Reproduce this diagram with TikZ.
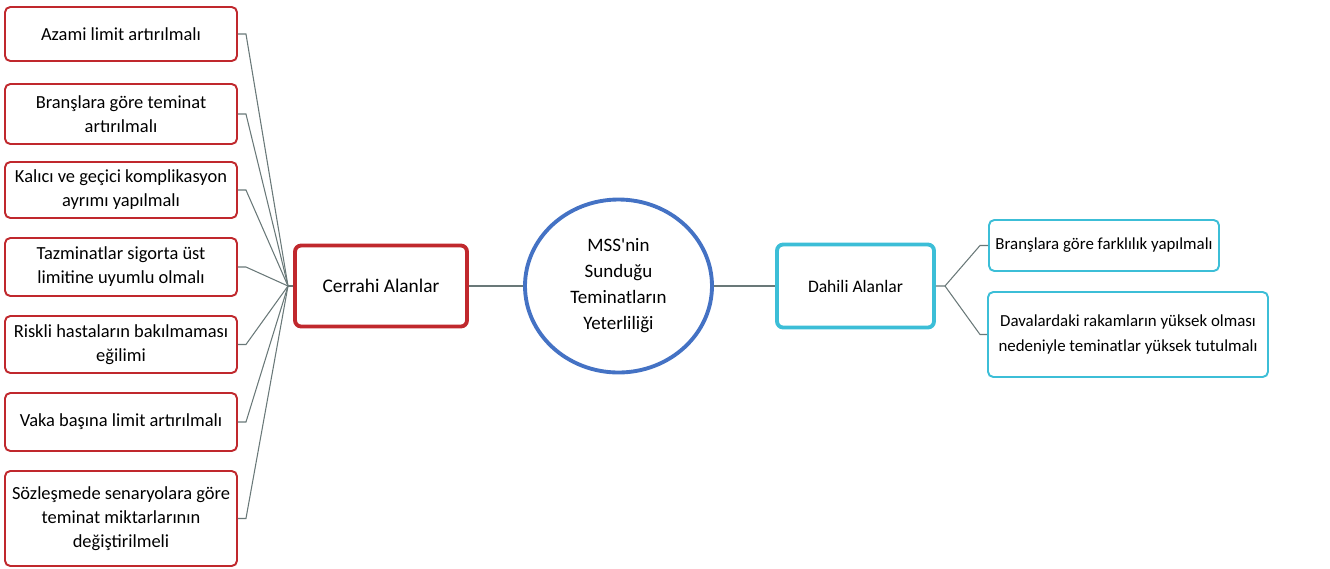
\documentclass[tikz,border=0pt]{standalone}
\usepackage{fontspec}
\setmainfont{Carlito}[Ligatures=TeXOff]
\usetikzlibrary{shapes.geometric}

\definecolor{boxred}{RGB}{192,40,45}
\definecolor{circblue}{RGB}{68,114,196}
\definecolor{boxcyan}{RGB}{60,190,215}
\definecolor{linkgray}{RGB}{105,120,120}

\tikzset{
  leafred/.style={draw=boxred, line width=1.1pt, rounded corners=3pt, fill=white,
    minimum width=4.64cm, align=center, font=\fontsize{10.5}{13.6}\selectfont, inner sep=2pt},
  leafcyan/.style={draw=boxcyan, line width=1.1pt, rounded corners=3pt, fill=white,
    align=center, font=\fontsize{9.6}{14.4}\selectfont, inner sep=2pt},
  branch/.style={line width=2.2pt, rounded corners=3.5pt, fill=white,
    align=center},
  link/.style={draw=linkgray, line width=0.6pt}
}

\begin{document}
\begin{tikzpicture}
    \useasboundingbox (0,0) rectangle (26.6,-11.36);

    % Center
    \node[draw=circblue, line width=2.2pt, ellipse, minimum width=3.74cm, minimum height=3.46cm,
      align=center, font=\fontsize{10.8}{14.8}\selectfont, inner sep=0pt] (root) at (12.37,-5.72)
      {MSS'nin\\Sunduğu\\Teminatların\\Yeterliliği};

    % Branches
    \node[branch, draw=boxred, font=\fontsize{11}{13}\selectfont, minimum width=3.44cm, minimum height=1.62cm] (cerrahi) at (7.62,-5.72) {Cerrahi Alanlar};
    \node[branch, draw=boxcyan, font=\fontsize{10}{12}\selectfont, minimum width=3.14cm, minimum height=1.66cm] (dahili) at (17.11,-5.72) {Dahili Alanlar};
    \draw[link] (cerrahi.east) -- (root.west);
    \draw[link] (root.east) -- (dahili.west);

    % Left leaves
    \node[leafred, minimum height=1.08cm] (l1) at (2.42,-0.68) {Azami limit artırılmalı};
    \node[leafred, minimum height=1.2cm] (l2) at (2.42,-2.28) {Branşlara göre teminat\\artırılmalı};
    \node[leafred, minimum height=1.12cm] (l3) at (2.42,-3.8) {Kalıcı ve geçici komplikasyon\\ayrımı yapılmalı};
    \node[leafred, minimum height=1.16cm] (l4) at (2.42,-5.34) {Tazminatlar sigorta üst\\limitine uyumlu olmalı};
    \node[leafred, minimum height=1.14cm] (l5) at (2.42,-6.89) {Riskli hastaların bakılmaması\\eğilimi};
    \node[leafred, minimum height=1.16cm] (l6) at (2.42,-8.44) {Vaka başına limit artırılmalı};
    \node[leafred, minimum height=1.9cm] (l7) at (2.42,-10.37) {Sözleşmede senaryolara göre\\teminat miktarlarının\\değiştirilmeli};

    \coordinate (hubL) at (5.76,-5.72);
    \draw[link] (hubL) -- (cerrahi.west);
    \foreach \n in {l1,l2,l3,l4,l5,l6,l7}
        \draw[link] (\n.east) -- ++(0.16,0) -- (hubL);

    % Right leaves
    \node[leafcyan, minimum width=4.6cm, minimum height=1.02cm] (r1) at (22.08,-4.91) {Branşlara göre farklılık yapılmalı};
    \node[leafcyan, minimum width=5.6cm, minimum height=1.7cm] (r2) at (22.56,-6.69) {Davalardaki rakamların yüksek olması\\nedeniyle teminatlar yüksek tutulmalı};

    \coordinate (hubR) at (18.9,-5.72);
    \coordinate (r1in) at (19.6,-4.91);
    \coordinate (r2in) at (19.6,-6.69);
    \draw[link] (dahili.east) -- (hubR) -- (r1in) -- (r1.west);
    \draw[link] (hubR) -- (r2in) -- (r2.west);
\end{tikzpicture}
\end{document}
